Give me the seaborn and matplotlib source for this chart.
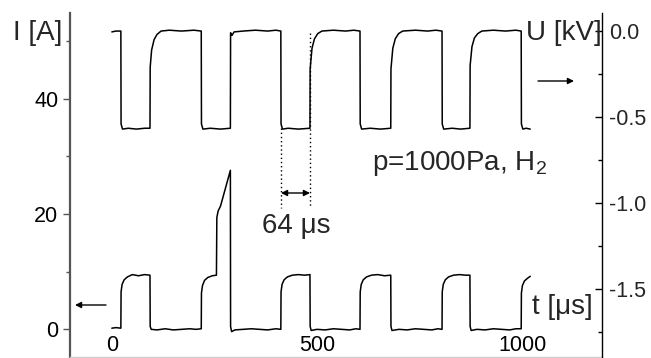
import matplotlib
matplotlib.use("Agg")
import matplotlib.pyplot as plt
from matplotlib.ticker import FixedLocator
import seaborn as sns

# ---- data ----
# current trace I [A] (left axis)
i_time = [0, 10, 22, 22.5, 25, 30, 38, 50, 65, 80, 93, 93.5, 96, 110, 130, 150, 170, 190, 205, 218,
          218.5, 221, 226, 234, 245, 255, 256, 259, 265, 289, 289.5, 292, 300, 320, 340, 360, 380, 400, 412,
          412.5, 415, 420, 428, 440, 455, 470, 483, 483.5, 486, 500, 520, 540, 560, 580, 595, 605,
          605.5, 608, 613, 621, 633, 648, 665, 680, 680.5, 683, 700, 720, 740, 760, 780, 795, 805,
          805.5, 808, 813, 821, 833, 848, 862, 873, 873.5, 876, 890, 910, 930, 950, 970, 985, 998,
          998.5, 1001, 1006, 1014, 1020]
i_amp = [0.2, 0.3, 0.2, 6.5, 7.8, 8.6, 9.1, 9.5, 9.3, 9.5, 9.4, 0.5, 0.0, -0.1, 0.1, -0.1, 0.0, 0.1, 0.0, 0.1,
         6.3, 7.6, 8.5, 9.0, 9.3, 9.4, 19.4, 20.5, 21.4, 27.6, 0.5, -0.4, -0.1, 0.0, 0.1, 0.0, -0.1, 0.1, 0.0,
         6.5, 7.8, 8.6, 9.1, 9.4, 9.5, 9.4, 9.5, 0.5, -0.2, 0.0, -0.1, 0.1, 0.0, -0.1, 0.1, 0.0,
         6.5, 7.8, 8.6, 9.1, 9.4, 9.5, 9.3, 9.4, 0.5, -0.2, 0.0, -0.1, 0.1, 0.0, -0.1, 0.1, 0.0,
         6.5, 7.8, 8.6, 9.1, 9.4, 9.5, 9.4, 9.4, 0.5, -0.2, 0.0, -0.1, 0.1, 0.0, -0.1, 0.1, 0.1,
         6.3, 7.6, 8.4, 8.9, 9.2]

# voltage trace U [kV] (right axis)
u_time = [0, 10, 22, 22.5, 26, 40, 60, 80, 93, 93.5, 97, 103, 110, 120, 140, 170, 200, 218,
          218.5, 222, 240, 265, 289, 289.5, 293, 298, 320, 350, 380, 400, 412,
          412.5, 416, 430, 455, 483, 483.5, 488, 494, 502, 512, 540, 570, 590, 605,
          605.5, 609, 630, 655, 680, 680.5, 685, 691, 699, 709, 740, 770, 790, 805,
          805.5, 809, 830, 850, 873, 873.5, 878, 884, 892, 902, 930, 960, 985, 998,
          998.5, 1002, 1010, 1020]
u_kv = [-0.005, 0.0, 0.0, -0.54, -0.57, -0.565, -0.57, -0.565, -0.565, -0.21, -0.11, -0.05, -0.02, 0.0, 0.005, 0.0, 0.005, 0.0,
        -0.54, -0.57, -0.565, -0.57, -0.565, -0.01, -0.025, -0.005, 0.0, 0.005, 0.0, 0.005, 0.0,
        -0.54, -0.57, -0.565, -0.57, -0.565, -0.22, -0.10, -0.045, -0.015, 0.0, 0.005, 0.0, 0.005, 0.0,
        -0.54, -0.57, -0.565, -0.57, -0.565, -0.22, -0.10, -0.045, -0.015, 0.0, 0.005, 0.0, 0.005, 0.0,
        -0.54, -0.57, -0.565, -0.57, -0.565, -0.20, -0.09, -0.04, -0.015, 0.0, 0.005, 0.0, 0.005, 0.0,
        -0.54, -0.57, -0.565, -0.57]

x_ticks = [0, 500, 1000]
x_tick_labels = ["0", "500", "1000"]
i_ticks = [0, 20, 40]
i_tick_labels = ["0", "20", "40"]
i_minor = [10, 30, 50]
u_ticks = [0.0, -0.5, -1.0, -1.5]
u_tick_labels = ["0.0", "-0.5", "-1.0", "-1.5"]
u_minor = [-0.25, -0.75, -1.25, -1.75]

# ---- style ----
sns.set_theme(style="white")
plt.rcParams['font.family'] = ['Liberation Sans', 'DejaVu Sans']
plt.rcParams['mathtext.fontset'] = 'custom'
plt.rcParams['mathtext.rm'] = 'Liberation Sans'
plt.rcParams['mathtext.it'] = 'Liberation Sans'

W, H = 651, 358
fig = plt.figure(figsize=(W / 100, H / 100), dpi=100)


def fx(px):
    return px / W


def fy(py):
    return 1 - py / H


ax = fig.add_axes([fx(70), fy(357), fx(602) - fx(70), fy(13) - fy(357)])
ax2 = ax.twinx()

sns.lineplot(x=i_time, y=i_amp, ax=ax, color='black', lw=1.1, sort=False, estimator=None)
sns.lineplot(x=u_time, y=u_kv, ax=ax2, color='black', lw=1.1, sort=False, estimator=None)

ax.set_xlim(-102, 1195)
ax.set_ylim(-4.8, 54.9)
ax2.set_ylim(-1.895, 0.105)

for a in (ax, ax2):
    a.set_xlabel("")
    a.set_ylabel("")
    for s in a.spines.values():
        s.set_visible(False)

ax.spines['left'].set_visible(True)
ax.spines['left'].set_color('#555555')
ax.spines['left'].set_linewidth(1.6)
ax.spines['bottom'].set_visible(True)
ax.spines['bottom'].set_color('#cfcfcf')
ax.spines['bottom'].set_linewidth(1.0)
ax2.spines['right'].set_visible(True)
ax2.spines['right'].set_color('black')
ax2.spines['right'].set_linewidth(1.0)

tick_fs = 15.5
ax.set_xticks(x_ticks)
ax.set_xticklabels(x_tick_labels)
ax.set_yticks(i_ticks)
ax.set_yticklabels(i_tick_labels)
ax.yaxis.set_minor_locator(FixedLocator(i_minor))
ax.tick_params(axis='x', length=0, pad=-15.5, labelsize=tick_fs, colors='black')
ax.tick_params(axis='y', which='major', direction='out', length=5, width=1.0, color='#555555',
               pad=3.5, labelsize=tick_fs, left=True, labelcolor='black')
ax.tick_params(axis='y', which='minor', direction='out', length=3, width=1.0, color='#555555', left=True)

ax2.set_yticks(u_ticks)
ax2.set_yticklabels(u_tick_labels)
ax2.yaxis.set_minor_locator(FixedLocator(u_minor))
ax2.tick_params(axis='y', which='major', direction='in', length=5, width=1.0, color='black',
                pad=5, labelsize=tick_fs, right=True)
ax2.tick_params(axis='y', which='minor', direction='in', length=3, width=1.0, color='black', right=True)

ax.grid(False)
ax2.grid(False)

# ---- texts ----
fs = 20
fig.text(fx(13), fy(33), "I [A]", ha='left', va='center', fontsize=fs)
fig.text(fx(526), fy(33), "U [kV]", ha='left', va='center', fontsize=fs)
fig.text(fx(372), fy(163), "p=1000Pa, H$_2$", ha='left', va='center', fontsize=fs)
fig.text(fx(262), fy(226), "64 \u03bcs", ha='left', va='center', fontsize=fs)
fig.text(fx(532), fy(307), "t [\u03bcs]", ha='left', va='center', fontsize=fs)

# arrows
arrow_kw = dict(arrowstyle='-|>', color='black', lw=1.0, mutation_scale=9, shrinkA=0, shrinkB=0)
fig.add_artist(matplotlib.patches.FancyArrowPatch((fx(538), fy(81)), (fx(574), fy(81)),
                                                  transform=fig.transFigure, **arrow_kw))
fig.add_artist(matplotlib.patches.FancyArrowPatch((fx(106), fy(305)), (fx(75), fy(305)),
                                                  transform=fig.transFigure, **arrow_kw))
dbl_kw = dict(arrowstyle='<|-|>', color='black', lw=1.0, mutation_scale=9, shrinkA=0, shrinkB=0)
fig.add_artist(matplotlib.patches.FancyArrowPatch((fx(281), fy(193)), (fx(310), fy(193)),
                                                  transform=fig.transFigure, **dbl_kw))

# dotted guide lines
fig.add_artist(matplotlib.lines.Line2D([fx(281), fx(281)], [fy(128), fy(208)], transform=fig.transFigure,
                                       color='black', lw=1.0, linestyle=(0, (1, 2))))
fig.add_artist(matplotlib.lines.Line2D([fx(310), fx(310)], [fy(33), fy(208)], transform=fig.transFigure,
                                       color='black', lw=1.0, linestyle=(0, (1, 2))))

fig.savefig("out.png", dpi=100)
